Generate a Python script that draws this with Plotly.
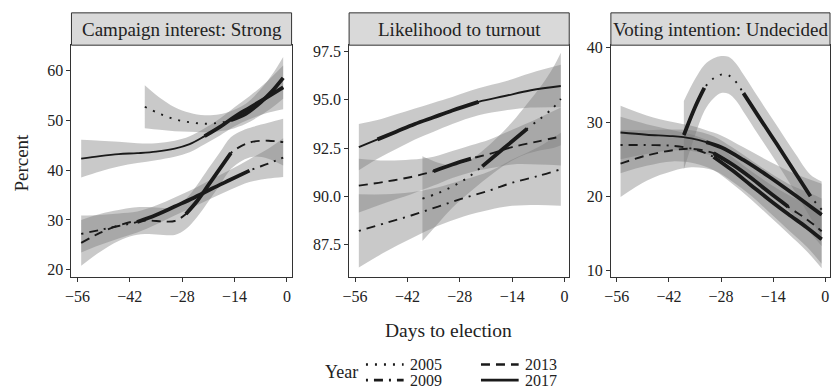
import plotly.graph_objects as go

# ---------------- data ----------------
YEARS = ["2005", "2009", "2013", "2017"]
PANEL_TITLES = ["Campaign interest: Strong", "Likelihood to turnout", "Voting intention: Undecided"]
X_TICKS = [-56, -42, -28, -14, 0]
X_TICK_LABELS = ["\u221256", "\u221242", "\u221228", "\u221214", "0"]

# Panel 1: Campaign interest: Strong  (x = days to election, y = fitted %, se = CI half-width, thick = emphasised)
P1_2005_X = [-38, -34, -30, -26, -22, -18, -15, -11, -7, -4, -1]
P1_2005_Y = [52.7, 51.3, 50.2, 49.6, 49.3, 49.5, 50.0, 51.3, 53.6, 55.8, 58.5]
P1_2005_SE = [4.3, 3.2, 2.4, 1.9, 1.7, 1.7, 1.8, 2.0, 2.6, 3.3, 4.2]
P1_2005_THICK = [0, 0, 0, 0, 0, 0, 1, 1, 1, 1, 1]

P1_2009_X = [-55, -50, -45, -40, -35, -30, -25, -20, -15, -10, -5, -1]
P1_2009_Y = [27.2, 28.0, 28.8, 29.6, 31.0, 32.7, 34.4, 36.3, 38.1, 39.9, 41.3, 42.5]
P1_2009_SE = [3.7, 3.0, 2.5, 2.1, 1.9, 1.8, 1.8, 1.9, 2.0, 2.3, 3.0, 3.9]
P1_2009_THICK = [0, 0, 0, 1, 1, 1, 1, 1, 1, 1, 0, 0]

P1_2013_X = [-55, -50, -45, -41, -37, -33, -30, -27, -24, -21, -18, -15, -12, -9, -5, -1]
P1_2013_Y = [25.4, 27.4, 28.9, 29.7, 29.9, 29.7, 29.8, 31.2, 33.8, 37.0, 40.2, 43.4, 44.9, 45.7, 45.9, 45.6]
P1_2013_SE = [4.6, 3.8, 3.1, 2.8, 2.7, 2.7, 2.8, 3.0, 3.2, 3.3, 3.3, 3.2, 3.0, 3.0, 3.6, 4.7]
P1_2013_THICK = [0, 0, 0, 0, 0, 0, 0, 1, 1, 1, 1, 1, 0, 0, 0, 0]

P1_2017_X = [-55, -50, -45, -40, -35, -30, -26, -22, -18, -14, -10, -6, -1]
P1_2017_Y = [42.3, 42.8, 43.2, 43.4, 43.7, 44.3, 45.2, 46.8, 48.6, 50.7, 52.5, 54.3, 56.6]
P1_2017_SE = [3.8, 3.1, 2.5, 2.0, 1.7, 1.6, 1.6, 1.6, 1.7, 1.9, 2.3, 3.0, 4.4]
P1_2017_THICK = [0, 0, 0, 0, 0, 0, 0, 1, 1, 1, 1, 1, 1]

# Panel 2: Likelihood to turnout
P2_2005_X = [-38, -34, -30, -26, -22, -18, -14, -10, -6, -3, -1]
P2_2005_Y = [89.87, 90.15, 90.5, 90.95, 91.55, 92.2, 92.85, 93.5, 94.1, 94.6, 95.05]
P2_2005_SE = [2.2, 1.6, 1.1, 0.85, 0.8, 0.85, 1.0, 1.3, 1.7, 2.1, 2.4]
P2_2005_THICK = [0, 0, 0, 0, 1, 1, 1, 1, 0, 0, 0]

P2_2009_X = [-55, -48, -41, -34, -27, -20, -14, -7, -1]
P2_2009_Y = [88.2, 88.6, 89.0, 89.45, 89.9, 90.3, 90.7, 91.05, 91.4]
P2_2009_SE = [1.9, 1.5, 1.2, 1.0, 0.95, 1.0, 1.2, 1.5, 1.9]
P2_2009_THICK = [0, 0, 0, 0, 0, 0, 0, 0, 0]

P2_2013_X = [-55, -48, -41, -35, -30, -25, -20, -14, -7, -1]
P2_2013_Y = [90.55, 90.75, 91.0, 91.3, 91.65, 91.95, 92.2, 92.55, 92.85, 93.1]
P2_2013_SE = [1.4, 1.1, 0.9, 0.75, 0.7, 0.7, 0.75, 0.9, 1.2, 1.5]
P2_2013_THICK = [0, 0, 0, 1, 1, 1, 0, 0, 0, 0]

P2_2017_X = [-55, -50, -45, -40, -35, -30, -23, -16, -9, -1]
P2_2017_Y = [92.55, 92.95, 93.35, 93.75, 94.1, 94.45, 94.9, 95.2, 95.5, 95.72]
P2_2017_SE = [1.2, 1.0, 0.9, 0.8, 0.75, 0.7, 0.7, 0.75, 0.9, 1.1]
P2_2017_THICK = [0, 1, 1, 1, 1, 1, 1, 0, 0, 0]

# Panel 3: Voting intention: Undecided
P3_2005_X = [-38, -35, -32.5, -30, -28, -26, -24, -22, -18, -13, -8, -4, -1]
P3_2005_Y = [28.25, 32.0, 34.6, 35.9, 36.4, 36.3, 35.4, 33.9, 30.8, 27.0, 23.1, 20.0, 18.2]
P3_2005_SE = [4.6, 3.8, 3.1, 2.7, 2.5, 2.5, 2.5, 2.5, 2.5, 2.5, 2.6, 2.9, 3.8]
P3_2005_THICK = [1, 1, 1, 0, 0, 0, 0, 1, 1, 1, 1, 1, 0]

P3_2009_X = [-55, -48, -41, -35, -30, -25, -20, -15, -10, -5, -1]
P3_2009_Y = [26.9, 26.9, 26.8, 26.3, 25.3, 23.5, 21.5, 19.5, 17.6, 15.8, 14.2]
P3_2009_SE = [3.8, 2.8, 2.1, 1.9, 1.8, 1.8, 1.9, 2.2, 2.6, 3.2, 3.9]
P3_2009_THICK = [0, 0, 0, 0, 1, 1, 1, 1, 1, 1, 1]

P3_2013_X = [-55, -48, -41, -36, -30, -25, -20, -15, -10, -5, -1]
P3_2013_Y = [24.4, 25.5, 26.2, 26.4, 25.8, 24.3, 22.5, 20.5, 18.6, 16.9, 15.3]
P3_2013_SE = [4.5, 3.4, 2.8, 2.5, 2.3, 2.3, 2.4, 2.7, 3.1, 3.7, 4.4]
P3_2013_THICK = [0, 0, 0, 0, 1, 1, 1, 1, 1, 0, 0]

P3_2017_X = [-55, -48, -41, -36, -32, -28, -22, -15, -8, -1]
P3_2017_Y = [28.6, 28.3, 28.1, 27.8, 27.3, 26.6, 24.9, 22.6, 20.1, 17.5]
P3_2017_SE = [3.6, 2.6, 1.9, 1.7, 1.6, 1.6, 1.7, 2.1, 2.9, 4.2]
P3_2017_THICK = [0, 0, 0, 0, 1, 1, 1, 1, 1, 1]

Y_RANGES = [[18.5, 65.05], [85.79, 97.84], [9.08, 40.36]]
Y_TICKS = [[20, 30, 40, 50, 60], [87.5, 90, 92.5, 95, 97.5], [10, 20, 30, 40]]
Y_TICK_LABELS = [["20", "30", "40", "50", "60"], ["87.5", "90.0", "92.5", "95.0", "97.5"], ["10", "20", "30", "40"]]

# ---------------- build ----------------
PANELS = [
    {"2005": (P1_2005_X, P1_2005_Y, P1_2005_SE, P1_2005_THICK),
     "2009": (P1_2009_X, P1_2009_Y, P1_2009_SE, P1_2009_THICK),
     "2013": (P1_2013_X, P1_2013_Y, P1_2013_SE, P1_2013_THICK),
     "2017": (P1_2017_X, P1_2017_Y, P1_2017_SE, P1_2017_THICK)},
    {"2005": (P2_2005_X, P2_2005_Y, P2_2005_SE, P2_2005_THICK),
     "2009": (P2_2009_X, P2_2009_Y, P2_2009_SE, P2_2009_THICK),
     "2013": (P2_2013_X, P2_2013_Y, P2_2013_SE, P2_2013_THICK),
     "2017": (P2_2017_X, P2_2017_Y, P2_2017_SE, P2_2017_THICK)},
    {"2005": (P3_2005_X, P3_2005_Y, P3_2005_SE, P3_2005_THICK),
     "2009": (P3_2009_X, P3_2009_Y, P3_2009_SE, P3_2009_THICK),
     "2013": (P3_2013_X, P3_2013_Y, P3_2013_SE, P3_2013_THICK),
     "2017": (P3_2017_X, P3_2017_Y, P3_2017_SE, P3_2017_THICK)},
]

W, H = 832, 390
FONT = "Liberation Serif, Times New Roman, serif"
INK = "#1a1a1a"
TEXT = "#222222"
FRAME = "#333333"
BAND = "rgba(120,120,120,0.40)"
DASH = {"2005": "2px,7px", "2009": "2px,6px,9px,6px", "2013": "9px,6px", "2017": "solid"}
THIN, THICK = 1.9, 3.8

DOMAINS_PX = [(65, 287), (345, 567), (609, 830)]
PLOT_TOP, PLOT_BOTTOM = 40, 277
STRIP_TOP = 7

fig = go.Figure()

def ax_names(i):
    return ("x" if i == 0 else f"x{i+1}", "y" if i == 0 else f"y{i+1}")

# confidence bands first (so lines sit on top)
for i, panel in enumerate(PANELS):
    xa, ya = ax_names(i)
    for yr in YEARS:
        xs, ys, se, _ = panel[yr]
        upper = [a + b for a, b in zip(ys, se)]
        lower = [a - b for a, b in zip(ys, se)]
        fig.add_trace(go.Scatter(x=xs, y=upper, mode="lines", line=dict(width=0, shape="spline"),
                                 xaxis=xa, yaxis=ya, showlegend=False, hoverinfo="skip"))
        fig.add_trace(go.Scatter(x=xs, y=lower, mode="lines", line=dict(width=0, shape="spline"),
                                 fill="tonexty", fillcolor=BAND,
                                 xaxis=xa, yaxis=ya, showlegend=False, hoverinfo="skip"))

# fitted lines + emphasised runs
for i, panel in enumerate(PANELS):
    xa, ya = ax_names(i)
    for yr in YEARS:
        xs, ys, se, thick = panel[yr]
        fig.add_trace(go.Scatter(x=xs, y=ys, mode="lines",
                                 line=dict(color=INK, width=THIN, dash=DASH[yr], shape="spline"),
                                 xaxis=xa, yaxis=ya, showlegend=False, name=yr))
        run = []
        for xv, yv, t in list(zip(xs, ys, thick)) + [(None, None, 0)]:
            if t:
                run.append((xv, yv))
            else:
                if len(run) >= 2:
                    fig.add_trace(go.Scatter(x=[p[0] for p in run], y=[p[1] for p in run], mode="lines",
                                             line=dict(color=INK, width=THICK, shape="spline"),
                                             xaxis=xa, yaxis=ya, showlegend=False, hoverinfo="skip"))
                run = []

layout = dict(
    width=W, height=H, margin=dict(l=0, r=0, t=0, b=0),
    paper_bgcolor="white", plot_bgcolor="white", showlegend=False,
    font=dict(family=FONT, color=TEXT, size=15),
)
shapes = []
annotations = []
ydom = [1 - PLOT_BOTTOM / H, 1 - PLOT_TOP / H]
for i in range(3):
    xa, ya = ax_names(i)
    key = "" if i == 0 else str(i + 1)
    x0, x1 = DOMAINS_PX[i]
    common = dict(showgrid=False, zeroline=False, showline=True, mirror=True, linecolor=FRAME, linewidth=1,
                  ticks="outside", ticklen=4, tickcolor=FRAME, tickfont=dict(size=16, family=FONT, color=TEXT))
    layout["xaxis" + key] = dict(domain=[x0 / W, x1 / W], range=[-57.6, 1.25], anchor=ya,
                                 tickvals=X_TICKS, ticktext=X_TICK_LABELS, **common)
    layout["yaxis" + key] = dict(domain=ydom, range=Y_RANGES[i], anchor=xa,
                                 tickvals=Y_TICKS[i], ticktext=Y_TICK_LABELS[i], **common)
    # facet strip
    shapes.append(dict(type="rect", xref="paper", yref="paper",
                       x0=x0 / W, x1=x1 / W, y0=1 - PLOT_TOP / H, y1=1 - STRIP_TOP / H,
                       fillcolor="#d9d9d9", line=dict(color=FRAME, width=1), layer="above"))
    annotations.append(dict(text=PANEL_TITLES[i], xref="paper", yref="paper",
                            x=(x0 + x1) / 2 / W, y=1 - (PLOT_TOP + STRIP_TOP) / 2 / H,
                            showarrow=False, xanchor="center", yanchor="middle",
                            font=dict(size=19, family=FONT, color=TEXT)))

annotations.append(dict(text="Percent", xref="paper", yref="paper", x=15 / W, y=1 - 160 / H,
                        textangle=-90, showarrow=False, xanchor="center", yanchor="middle",
                        font=dict(size=19, family=FONT, color=TEXT)))
annotations.append(dict(text="Days to election", xref="paper", yref="paper", x=445 / W, y=1 - 331 / H,
                        showarrow=False, xanchor="center", yanchor="middle",
                        font=dict(size=19.5, family=FONT, color=TEXT)))

# legend (key samples + labels)
annotations.append(dict(text="Year", xref="paper", yref="paper", x=337 / W, y=1 - 374 / H,
                        showarrow=False, xanchor="center", yanchor="middle",
                        font=dict(size=18, family=FONT, color=TEXT)))
LEG = [("2005", 362, 400, 366, 404, 365.5), ("2009", 362, 400, 382, 404, 382.5),
       ("2013", 478, 516, 366, 520, 365.5), ("2017", 478, 516, 382, 520, 382.5)]
for yr, kx0, kx1, ky, tx, ty in LEG:
    shapes.append(dict(type="line", xref="paper", yref="paper", x0=kx0 / W, x1=kx1 / W,
                       y0=1 - ky / H, y1=1 - ky / H,
                       line=dict(color=INK, width=2.6, dash=DASH[yr])))
    annotations.append(dict(text=yr, xref="paper", yref="paper", x=tx / W, y=1 - ty / H,
                            showarrow=False, xanchor="left", yanchor="middle",
                            font=dict(size=16, family=FONT, color=TEXT)))

layout["shapes"] = shapes
layout["annotations"] = annotations
fig.update_layout(**layout)

fig.write_html("out.html", config={"displayModeBar": False},
               post_script="document.body.style.margin='0';")
